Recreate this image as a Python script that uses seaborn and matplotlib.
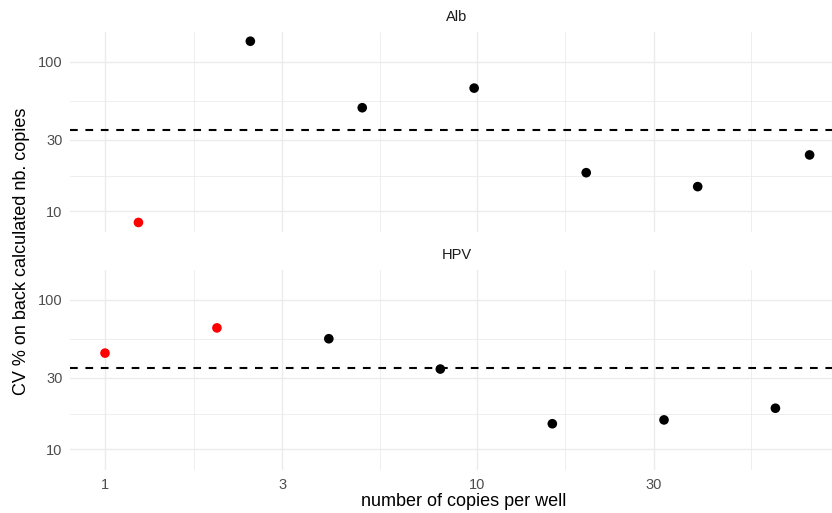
import numpy as np
import pandas as pd
import matplotlib
matplotlib.use("Agg")
import matplotlib.pyplot as plt
import seaborn as sns


# DATA

alb_copies = [1.23, 2.46, 4.92, 9.84, 19.7, 39.3, 78.6]
alb_cv = [8.4, 137.5, 49.3, 66.7, 18.1, 14.6, 23.8]
alb_flag = ["low", "ok", "ok", "ok", "ok", "ok", "ok"]

hpv_copies = [1.0, 2.0, 4.0, 7.98, 15.97, 31.9, 63.6]
hpv_cv = [44.0, 64.9, 54.9, 34.4, 14.8, 15.7, 18.8]
hpv_flag = ["low", "low", "ok", "ok", "ok", "ok", "ok"]

cv_limit = 35
panels = ["Alb", "HPV"]

df = pd.concat([
    pd.DataFrame({"copies": alb_copies, "cv": alb_cv, "flag": alb_flag, "assay": "Alb"}),
    pd.DataFrame({"copies": hpv_copies, "cv": hpv_cv, "flag": hpv_flag, "assay": "HPV"}),
])


# STYLE

sns.set_theme(style="white")
plt.rcParams["font.family"] = ["Liberation Sans", "DejaVu Sans"]

grid_col = "#EBEBEB"
x_major = [1, 3, 10, 30]
y_major = [10, 30, 100]
# minor lines halfway (in log space) between the major ones
x_minor = [np.sqrt(a * b) for a, b in zip([1, 3, 10, 30], [3, 10, 30, 100])]
y_minor = [np.sqrt(a * b) for a, b in zip(y_major[:-1], y_major[1:])]


# FIGURE

fig = plt.figure(figsize=(8.32, 5.13), dpi=100)
W, H = 832, 513
left, right = 70, 832
panel_boxes = [(32, 232), (270, 470)]

for i, (name, (top, bottom)) in enumerate(zip(panels, panel_boxes)):
    ax = fig.add_axes([left / W, 1 - bottom / H, (right - left) / W, (bottom - top) / H])
    sub = df[df["assay"] == name]

    ax.set_xscale("log")
    ax.set_yscale("log")

    for v in x_minor:
        ax.axvline(v, color=grid_col, lw=0.6, zorder=0)
    for v in y_minor:
        ax.axhline(v, color=grid_col, lw=0.6, zorder=0)
    for v in x_major:
        ax.axvline(v, color=grid_col, lw=1.0, zorder=0)
    for v in y_major:
        ax.axhline(v, color=grid_col, lw=1.0, zorder=0)

    ax.axhline(cv_limit, color="black", lw=1.5, ls=(0, (3.7, 3.7)), zorder=2)

    sns.scatterplot(data=sub, x="copies", y="cv", hue="flag",
                    palette={"low": "red", "ok": "black"},
                    s=48, edgecolor="none", legend=False, ax=ax, zorder=3)

    ax.set_xticks(x_major)
    ax.set_yticks(y_major)
    ax.set_xticks([], minor=True)
    ax.set_yticks([], minor=True)
    ax.set_yticklabels([str(v) for v in y_major])
    if i == 1:
        ax.set_xticklabels([str(v) for v in x_major])
    else:
        ax.set_xticklabels([])
    ax.set_xlim(0.805, 90.3)
    ax.set_ylim(7.25, 158.5)
    ax.tick_params(length=0, pad=5.5, labelsize=10.5, labelcolor="#4D4D4D")
    ax.set_xlabel("")
    ax.set_ylabel("")
    for s in ax.spines.values():
        s.set_visible(False)

    # facet strip label
    fig.text(457 / W, 1 - (top - 15) / H, name,
             ha="center", va="center", fontsize=10.5, color="#1A1A1A")

fig.text(464 / W, 1 - 501 / H, "number of copies per well",
         ha="center", va="center", fontsize=13, color="black")
fig.text(21.5 / W, 1 - 251 / H, "CV % on back calculated nb. copies",
         ha="center", va="center", rotation=90, fontsize=13, color="black")

fig.savefig("out.png", dpi=100)
